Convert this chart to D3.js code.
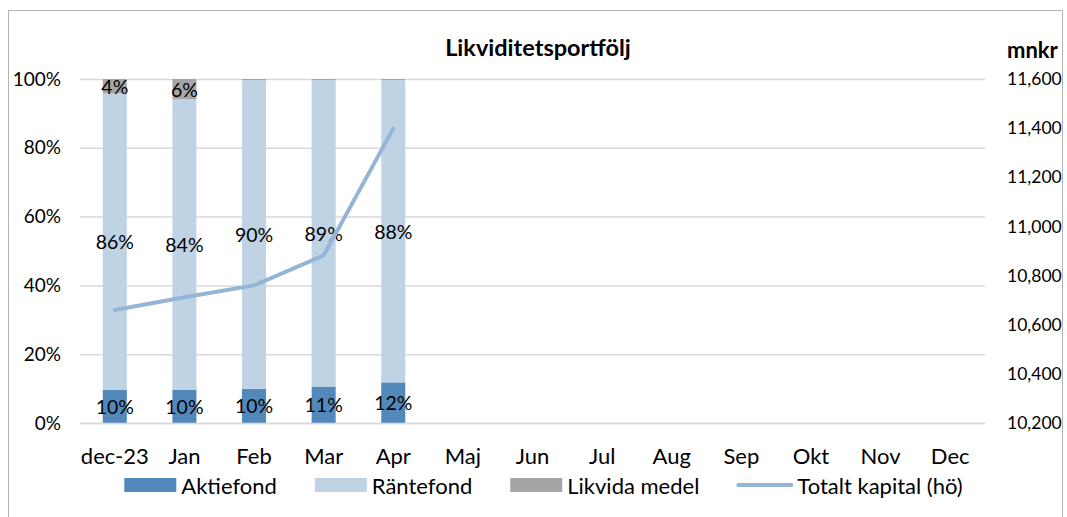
<!DOCTYPE html>
<html>
<head>
<meta charset="utf-8">
<script src="https://cdn.jsdelivr.net/npm/d3@7"></script>
<style>
  body { margin: 0; background: #fff; }
  svg { display: block; }
  text { font-family: Lato, "Open Sans", sans-serif; fill: #000; }
</style>
</head>
<body>
<svg id="chart" width="1067" height="517"></svg>
<script>
// months on the x axis
const months = ['dec-23', 'Jan', 'Feb', 'Mar', 'Apr', 'Maj', 'Jun', 'Jul', 'Aug', 'Sep', 'Okt', 'Nov', 'Dec'];

// shares of the portfolio, percent (only filled months)
const aktiefond = [9.6, 9.7, 9.9, 10.6, 11.8];
const rantefond = [86.2, 84.4, 89.8, 89.1, 87.9];
const likvida = [4.2, 5.9, 0.3, 0.3, 0.3];

// total capital, mnkr (right axis)
const totalKapital = [10660, 10712, 10760, 10882, 11398];

const leftTicks = [0, 20, 40, 60, 80, 100];
const rightTicks = [10200, 10400, 10600, 10800, 11000, 11200, 11400, 11600];

const COLORS = {
  aktie: '#5289ba',
  rante: '#c0d3e5',
  likvida: '#a5a5a5',
  line: '#95b5d6',
  grid: '#d9d9d9',
};

const svg = d3.select('#chart');

// outer chart frame
svg.append('rect')
  .attr('x', 8.5).attr('y', 10.5)
  .attr('width', 1054).attr('height', 520)
  .attr('fill', '#fff').attr('stroke', '#b4b4b4');

const plot = { left: 80, right: 985, top: 79, bottom: 423 };

const x = d3.scaleBand()
  .domain(months)
  .range([plot.left, plot.right])
  .paddingInner(0.655)
  .paddingOuter(0.3275);

const yL = d3.scaleLinear().domain([0, 100]).range([plot.bottom, plot.top]);
const yR = d3.scaleLinear().domain([10200, 11600]).range([plot.bottom, plot.top]);

// gridlines
svg.append('g')
  .selectAll('line')
  .data(leftTicks)
  .join('line')
  .attr('x1', plot.left).attr('x2', plot.right)
  .attr('y1', d => yL(d) + 0.5).attr('y2', d => yL(d) + 0.5)
  .attr('stroke', COLORS.grid).attr('stroke-width', 1.5);

// left axis
const leftAxis = svg.append('g')
  .attr('transform', `translate(${plot.left - 19},0)`)
  .call(d3.axisLeft(yL).tickValues(leftTicks).tickFormat(d => d + '%').tickSize(0).tickPadding(0));
leftAxis.select('.domain').remove();
leftAxis.selectAll('text').style('font-size', '19px').attr('fill', '#000');

// right axis
const rightAxis = svg.append('g')
  .attr('transform', `translate(${plot.right + 22},0)`)
  .call(d3.axisRight(yR).tickValues(rightTicks).tickFormat(d3.format(',')).tickSize(0).tickPadding(0));
rightAxis.select('.domain').remove();
rightAxis.selectAll('text').style('font-size', '17.5px').attr('fill', '#000');

// x axis labels
const xAxis = svg.append('g')
  .attr('transform', `translate(0,${plot.bottom + 25})`)
  .call(d3.axisBottom(x).tickSize(0).tickPadding(0));
xAxis.select('.domain').remove();
xAxis.selectAll('text').style('font-size', '22px').attr('fill', '#000');

// stacked bars
const rows = aktiefond.map((a, i) => ({
  month: months[i], aktiefond: a, rantefond: rantefond[i], likvida: likvida[i],
}));
const keys = ['aktiefond', 'rantefond', 'likvida'];
const keyColor = { aktiefond: COLORS.aktie, rantefond: COLORS.rante, likvida: COLORS.likvida };
const stacked = d3.stack().keys(keys)(rows);

const barG = svg.append('g');
stacked.forEach(layer => {
  barG.append('g')
    .attr('fill', keyColor[layer.key])
    .selectAll('rect')
    .data(layer)
    .join('rect')
    .attr('x', d => x(d.data.month))
    .attr('width', x.bandwidth())
    .attr('y', d => yL(d[1]))
    .attr('height', d => yL(d[0]) - yL(d[1]));
});

// data labels
stacked.forEach(layer => {
  svg.append('g')
    .selectAll('text')
    .data(layer.filter(d => d[1] - d[0] >= 1))
    .join('text')
    .attr('x', d => x(d.data.month) + x.bandwidth() / 2)
    .attr('y', d => (yL(d[0]) + yL(d[1])) / 2)
    .attr('text-anchor', 'middle')
    .attr('dominant-baseline', 'central')
    .style('font-size', '19.5px')
    .text(d => Math.round(d[1] - d[0]) + '%');
});

// total capital line
const line = d3.line()
  .x((d, i) => x(months[i]) + x.bandwidth() / 2)
  .y(d => yR(d));
svg.append('path')
  .datum(totalKapital)
  .attr('d', line)
  .attr('fill', 'none')
  .attr('stroke', COLORS.line)
  .attr('stroke-width', 4)
  .attr('stroke-linejoin', 'round')
  .attr('stroke-linecap', 'round');

// bottom axis line (drawn over bars)
svg.append('line')
  .attr('x1', plot.left).attr('x2', plot.right)
  .attr('y1', plot.bottom + 0.5).attr('y2', plot.bottom + 0.5)
  .attr('stroke', COLORS.grid).attr('stroke-width', 1.5);

// title and unit
svg.append('text')
  .attr('x', 538).attr('y', 56)
  .attr('text-anchor', 'middle')
  .style('font-size', '23.5px').style('font-weight', 'bold')
  .text('Likviditetsportfölj');
svg.append('text')
  .attr('x', 1007).attr('y', 58)
  .style('font-size', '22px').style('font-weight', 'bold')
  .text('mnkr');

// legend
const legendItems = [
  { label: 'Aktiefond', type: 'rect', color: COLORS.aktie },
  { label: 'Räntefond', type: 'rect', color: COLORS.rante },
  { label: 'Likvida medel', type: 'rect', color: COLORS.likvida },
  { label: 'Totalt kapital (hö)', type: 'line', color: COLORS.line },
];
const legend = svg.append('g');
const swW = 52, gap = 5, itemGap = 38, ly = 485;
let cursor = 0;
legendItems.forEach(item => {
  const g = legend.append('g').attr('transform', `translate(${cursor},0)`);
  if (item.type === 'rect') {
    g.append('rect').attr('x', 0).attr('y', ly - 7).attr('width', swW).attr('height', 14).attr('fill', item.color);
  } else {
    g.append('line').attr('x1', 1).attr('x2', swW + 2).attr('y1', ly).attr('y2', ly)
      .attr('stroke', item.color).attr('stroke-width', 4).attr('stroke-linecap', 'round');
  }
  const t = g.append('text')
    .attr('x', swW + gap + (item.type === 'line' ? 3 : 0)).attr('y', ly)
    .attr('dominant-baseline', 'central')
    .style('font-size', '22px')
    .text(item.label);
  cursor += swW + gap + t.node().getComputedTextLength() + itemGap;
});
const legendWidth = cursor - itemGap;
legend.attr('transform', `translate(${542 - legendWidth / 2},0)`);
</script>
</body>
</html>
